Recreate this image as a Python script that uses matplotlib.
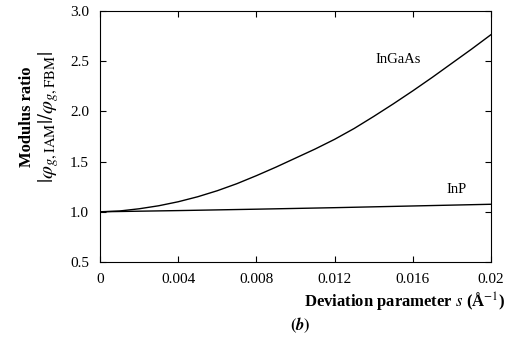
import numpy as np
from matplotlib import pyplot as plt

# deviation parameter s (1/Angstrom)
s_ingaas = [0.000, 0.001, 0.002, 0.003, 0.004, 0.005, 0.006, 0.007, 0.008, 0.009, 0.010,
            0.011, 0.012, 0.013, 0.014, 0.015, 0.016, 0.017, 0.018, 0.019, 0.020]
ratio_ingaas = [1.000, 1.008, 1.030, 1.060, 1.100, 1.150, 1.210, 1.280, 1.360, 1.445, 1.535,
                1.625, 1.722, 1.830, 1.950, 2.075, 2.205, 2.340, 2.480, 2.620, 2.765]

s_inp = [0.0, 0.004, 0.008, 0.012, 0.016, 0.020]
ratio_inp = [1.0, 1.012, 1.026, 1.041, 1.058, 1.075]

xticks = [0, 0.004, 0.008, 0.012, 0.016, 0.02]
xticklabels = ["0", "0.004", "0.008", "0.012", "0.016", "0.02"]
yticks = [0.5, 1.0, 1.5, 2.0, 2.5, 3.0]

plt.rcParams["font.family"] = ["Liberation Serif", "DejaVu Serif"]
plt.rcParams["mathtext.fontset"] = "stix"

fig = plt.figure(figsize=(5.11, 3.49), dpi=100)
ax = fig.add_axes([0.1957, 0.2493, 0.7653, 0.7192])

ax.plot(s_ingaas, ratio_ingaas, color="black", lw=1.0)
ax.plot(s_inp, ratio_inp, color="black", lw=1.0)

ax.text(0.01525, 2.52, "InGaAs", fontsize=10.5, ha="center", va="center")
ax.text(0.01826, 1.225, "InP", fontsize=10.5, ha="center", va="center")

ax.set_xlim(0, 0.02)
ax.set_ylim(0.5, 3.0)
ax.set_xticks(xticks)
ax.set_xticklabels(xticklabels)
ax.set_yticks(yticks)
ax.set_yticklabels(["%.1f" % v for v in yticks])
ax.tick_params(direction="in", length=4, width=0.8, top=True, right=True,
               labelsize=11, pad=8)
for sp in ax.spines.values():
    sp.set_linewidth(0.8)

# y label, two lines
fig.text(27 / 511, 1 - 117 / 349, "Modulus ratio", rotation=90, fontsize=12,
         fontweight="bold", ha="center", va="center")
fig.text(49 / 511, 1 - 117 / 349,
         r"$|\varphi_{g,\mathrm{IAM}}|/\varphi_{g,\mathrm{FBM}}|$",
         rotation=90, fontsize=15, ha="center", va="center")

fig.text(505 / 511, 1 - 302 / 349, "Deviation parameter $s$ (Å$^{-1}$)",
         fontsize=12, fontweight="bold", ha="right", va="center")

fig.text(300 / 511, 1 - 325 / 349, r"$\boldsymbol{(b)}$", fontsize=12,
         ha="center", va="center")

fig.savefig("out.png", dpi=100)
